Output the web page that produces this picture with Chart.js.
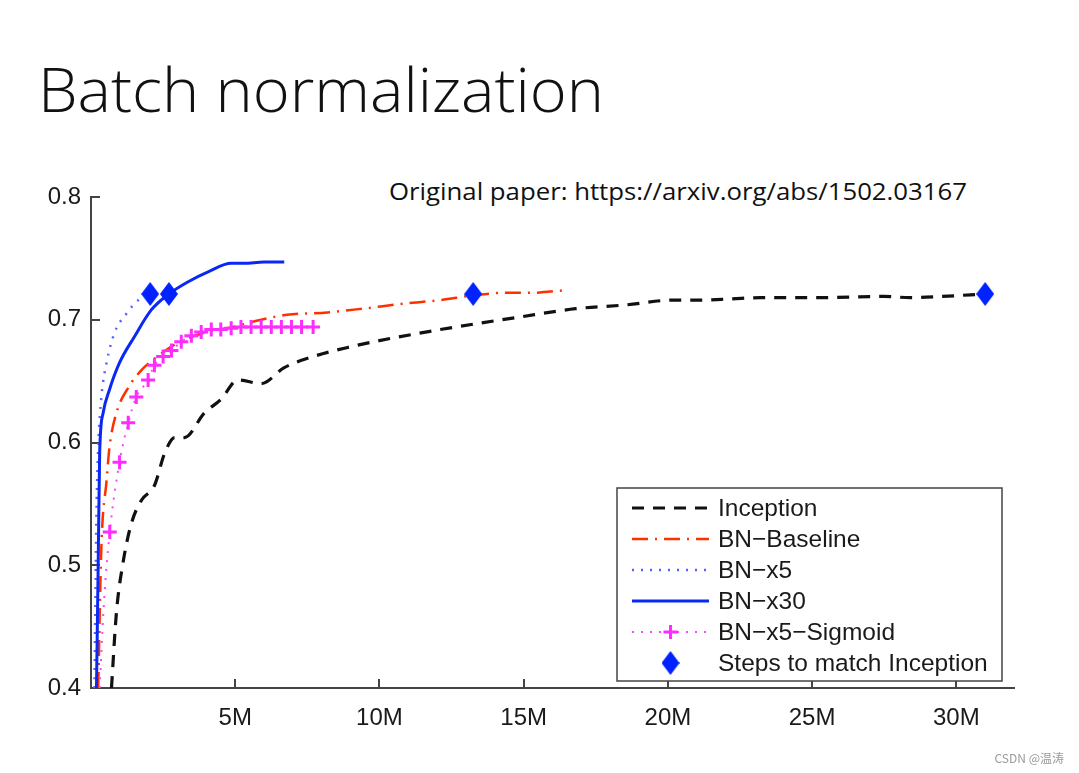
<!DOCTYPE html>
<html>
<head>
<meta charset="utf-8">
<script src="https://cdn.jsdelivr.net/npm/chart.js@4.4.1/dist/chart.umd.min.js"></script>
<style>
  html, body { margin: 0; padding: 0; background: #fff; }
  body { width: 1079px; height: 773px; position: relative; overflow: hidden; }
  #chart { position: absolute; left: 0; top: 0; }
  #title { position: absolute; left: 38px; top: 58px; font-family: "Open Sans"; font-weight: 300; font-size: 61px; line-height: 61px; color: #111; white-space: nowrap; transform-origin: 0 0; }
  #paper { position: absolute; left: 389px; top: 180px; font-family: "Open Sans"; font-size: 23px; line-height: 23px; color: #111; white-space: nowrap; transform-origin: 0 0; }
  #wm { position: absolute; right: 15px; top: 749px; font-family: "Noto Sans CJK SC"; font-size: 12px; color: #9a9a9a; }
</style>
</head>
<body>
<div id="title">Batch normalization</div>
<div id="paper">Original paper: https://arxiv.org/abs/1502.03167</div>
<canvas id="chart" width="1079" height="773"></canvas>
<div id="wm">CSDN @温涛</div>
<script>
// --- Tick labels ---
const xTickValues = [5, 10, 15, 20, 25, 30];   // millions of steps
const yTickValues = [0.4, 0.5, 0.6, 0.7, 0.8];

// --- Series (x in millions of training steps, y = validation accuracy) ---
const inceptionX = [0.71, 0.88, 1.11, 1.40, 1.75, 2.2, 2.55, 2.9, 3.24, 3.93, 4.5, 5.1, 5.9, 6.7, 7.7, 9.0, 10.0, 12.1, 14.8, 16.8, 18.5, 20.2, 21.1, 22.2, 23.2, 25.2, 27.5, 28.4, 29.5, 31.0];
const inceptionY = [0.40, 0.461, 0.502, 0.534, 0.553, 0.565, 0.591, 0.604, 0.604, 0.624, 0.635, 0.651, 0.648, 0.661, 0.670, 0.678, 0.683, 0.692, 0.702, 0.709, 0.712, 0.716, 0.716, 0.717, 0.718, 0.718, 0.719, 0.718, 0.719, 0.721];

const baselineX = [0.25, 0.36, 0.54, 0.64, 0.88, 1.3, 1.75, 2.3, 3.0, 4.0, 4.9, 5.9, 6.8, 8.2, 9.4, 10.8, 12.1, 13.3, 14.4, 15.3, 16.4];
const baselineY = [0.40, 0.515, 0.569, 0.596, 0.624, 0.645, 0.659, 0.670, 0.681, 0.690, 0.694, 0.700, 0.704, 0.706, 0.709, 0.713, 0.716, 0.720, 0.722, 0.722, 0.724];

const x5X = [0.12, 0.19, 0.25, 0.36, 0.54, 0.81, 1.23, 1.64, 2.05];
const x5Y = [0.40, 0.543, 0.596, 0.637, 0.665, 0.689, 0.705, 0.716, 0.721];

const x30X = [0.19, 0.25, 0.30, 0.42, 0.64, 0.99, 1.5, 2.09, 2.7, 3.37, 4.06, 4.86, 5.3, 6.0, 6.7];
const x30Y = [0.40, 0.502, 0.591, 0.624, 0.643, 0.665, 0.686, 0.708, 0.721, 0.731, 0.739, 0.746, 0.746, 0.747, 0.747];

const sigmoidX = [0.30, 0.45, 0.65, 0.99, 1.29, 1.57, 1.98, 2.2, 2.5, 2.79, 3.13, 3.48, 3.82, 4.17, 4.5, 4.86, 5.2, 5.55, 5.9, 6.25, 6.6, 6.95, 7.3, 7.7];
const sigmoidY = [0.40, 0.47, 0.527, 0.584, 0.616, 0.637, 0.651, 0.663, 0.670, 0.675, 0.682, 0.687, 0.690, 0.692, 0.692, 0.693, 0.694, 0.694, 0.694, 0.694, 0.694, 0.694, 0.694, 0.694];

const matchX = [2.05, 2.7, 13.25, 31.0];
const matchY = [0.721, 0.721, 0.721, 0.721];

const toPoints = (xs, ys) => xs.map((x, i) => ({ x: x, y: ys[i] }));

// --- Diamond marker ---
function makeDiamond(w, h, color) {
  const c = document.createElement('canvas');
  c.width = w; c.height = h;
  const g = c.getContext('2d');
  g.fillStyle = color;
  g.beginPath();
  g.moveTo(w / 2, 0); g.lineTo(w, h / 2); g.lineTo(w / 2, h); g.lineTo(0, h / 2);
  g.closePath();
  g.fill();
  return c;
}
const diamond = makeDiamond(18, 24, '#0022ff');

const FONT = 'Liberation Sans, Arial, sans-serif';

// --- Inward tick marks (Matlab style) ---
const inwardTicks = {
  id: 'inwardTicks',
  beforeDatasetsDraw(chart) {
    const { ctx, chartArea, scales } = chart;
    ctx.save();
    ctx.strokeStyle = '#444';
    ctx.lineWidth = 2;
    ctx.beginPath();
    xTickValues.forEach(v => {
      const px = Math.round(scales.x.getPixelForValue(v));
      ctx.moveTo(px, chartArea.bottom);
      ctx.lineTo(px, chartArea.bottom - 9);
    });
    yTickValues.forEach(v => {
      const py = Math.round(scales.y.getPixelForValue(v));
      ctx.moveTo(chartArea.left, py);
      ctx.lineTo(chartArea.left + 9, py);
    });
    ctx.stroke();
    ctx.restore();
  }
};

// --- Legend box inside the plot ---
const legendOrder = ['Inception', 'BN-Baseline', 'BN-x5', 'BN-x30', 'BN\u2212x5\u2212Sigmoid', 'Steps to match Inception'];
const legendBox = {
  id: 'legendBox',
  afterDraw(chart) {
    const { ctx, chartArea } = chart;
    const w = 385, h = 193;
    const left = chartArea.right - 12 - w;
    const top = chartArea.bottom - 7 - h;
    ctx.save();
    ctx.fillStyle = '#fff';
    ctx.fillRect(left, top, w, h);
    ctx.strokeStyle = '#444';
    ctx.lineWidth = 1.5;
    ctx.strokeRect(left, top, w, h);

    ctx.font = '24.5px ' + FONT;
    ctx.textBaseline = 'middle';
    legendOrder.forEach((name, i) => {
      const ds = chart.data.datasets.find(d => d.legendName === name);
      const y = top + 20 + i * 31;
      const x0 = left + 15, x1 = left + 92, xm = (x0 + x1) / 2;
      if (ds.showLine !== false) {
        ctx.setLineDash(ds.borderDash || []);
        ctx.strokeStyle = ds.borderColor;
        ctx.lineWidth = ds.borderWidth;
        ctx.beginPath();
        ctx.moveTo(x0, y);
        ctx.lineTo(x1, y);
        ctx.stroke();
        ctx.setLineDash([]);
      }
      if (ds.pointStyle === 'cross') {
        ctx.strokeStyle = ds.pointBorderColor;
        ctx.lineWidth = 3;
        ctx.beginPath();
        ctx.moveTo(xm - 7, y); ctx.lineTo(xm + 7, y);
        ctx.moveTo(xm, y - 7); ctx.lineTo(xm, y + 7);
        ctx.stroke();
      } else if (ds.pointStyle === diamond) {
        ctx.drawImage(diamond, xm - diamond.width / 2, y - diamond.height / 2);
      }
      ctx.fillStyle = '#1a1a1a';
      ctx.fillText(name.replace(/-/g, '\u2212'), left + 101, y + 1);
    });
    ctx.restore();
  }
};

// --- Chart ---
const ctx = document.getElementById('chart');
new Chart(ctx, {
  type: 'line',
  data: {
    datasets: [
      {
        legendName: 'Steps to match Inception',
        data: toPoints(matchX, matchY),
        showLine: false,
        pointStyle: diamond,
        pointRadius: 10,
        borderColor: '#0022ff',
        backgroundColor: '#0022ff',
        clip: false
      },
      {
        legendName: 'BN-x30',
        data: toPoints(x30X, x30Y),
        borderColor: '#0a28f5',
        borderWidth: 3,
        pointRadius: 0
      },
      {
        legendName: 'BN-x5',
        data: toPoints(x5X, x5Y),
        borderColor: '#5363ff',
        borderWidth: 2.5,
        borderDash: [2, 7],
        pointRadius: 0
      },
      {
        legendName: 'BN\u2212x5\u2212Sigmoid',
        data: toPoints(sigmoidX, sigmoidY),
        borderColor: '#ff44ff',
        borderWidth: 2,
        borderDash: [2, 7],
        pointStyle: 'cross',
        pointRadius: c => (c.dataIndex < 2 ? 0 : 7),
        pointBorderColor: '#ff2cff',
        pointBorderWidth: 3
      },
      {
        legendName: 'BN-Baseline',
        data: toPoints(baselineX, baselineY),
        borderColor: '#ff3000',
        borderWidth: 2.5,
        borderDash: [16, 7, 2, 7],
        pointRadius: 0
      },
      {
        legendName: 'Inception',
        data: toPoints(inceptionX, inceptionY),
        borderColor: '#111',
        borderWidth: 3.2,
        borderDash: [12, 9],
        pointRadius: 0
      }
    ]
  },
  options: {
    responsive: false,
    animation: false,
    layout: { padding: { left: 0, top: 197, right: 65, bottom: 35 } },
    elements: { line: { cubicInterpolationMode: 'monotone' } },
    plugins: { legend: { display: false }, tooltip: { enabled: false } },
    scales: {
      x: {
        type: 'linear',
        min: 0,
        max: 32,
        afterBuildTicks: s => { s.ticks = xTickValues.map(v => ({ value: v })); },
        afterFit: s => { s.height = 50; },
        grid: { drawOnChartArea: false, drawTicks: false },
        border: { color: '#444', width: 2 },
        ticks: { padding: 16, color: '#1a1a1a', font: { family: FONT, size: 24 }, callback: v => v + 'M' }
      },
      y: {
        type: 'linear',
        min: 0.4,
        max: 0.8,
        afterBuildTicks: s => { s.ticks = yTickValues.map(v => ({ value: v })); },
        afterFit: s => { s.width = 91; },
        grid: { drawOnChartArea: false, drawTicks: false },
        border: { color: '#444', width: 2 },
        ticks: { padding: 10, color: '#1a1a1a', font: { family: FONT, size: 24 }, callback: v => v.toFixed(1) }
      }
    }
  },
  plugins: [inwardTicks, legendBox]
});

// --- Fit the slide texts to their widths ---
function fitWidth(id, target) {
  const el = document.getElementById(id);
  el.style.display = 'inline-block';
  const w = el.getBoundingClientRect().width;
  el.style.transform = 'scaleX(' + (target / w) + ')';
}
fitWidth('title', 566);
fitWidth('paper', 578);
</script>
</body>
</html>
